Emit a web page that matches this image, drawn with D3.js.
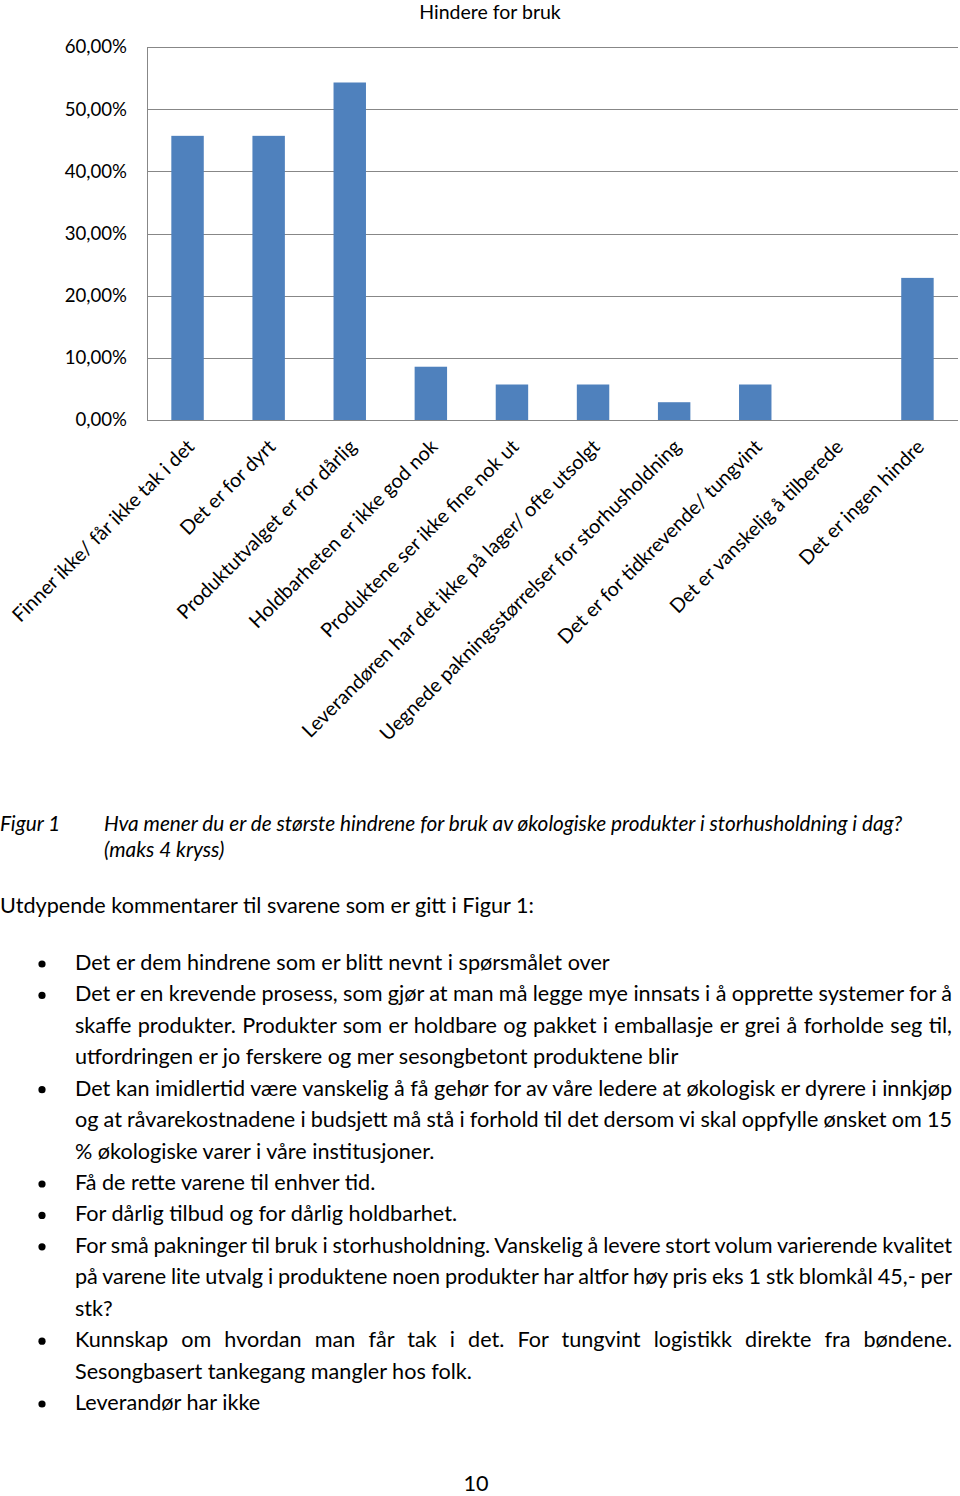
<!DOCTYPE html>
<html>
<head>
<meta charset="utf-8">
<script src="https://cdn.jsdelivr.net/npm/d3@7"></script>
<style>
  body { margin: 0; background: #fff; }
  svg { display: block; }
  text { font-family: Lato, "Open Sans", sans-serif; fill: #000; }
</style>
</head>
<body>
<svg width="960" height="1496"></svg>
<script>
const categories = [
  "Finner ikke/ får ikke tak i det",
  "Det er for dyrt",
  "Produktutvalget er for dårlig",
  "Holdbarheten er ikke god nok",
  "Produktene ser ikke fine nok ut",
  "Leverandøren har det ikke på lager/ ofte utsolgt",
  "Uegnede pakningsstørrelser for storhusholdning",
  "Det er for tidkrevende/ tungvint",
  "Det er vanskelig å tilberede",
  "Det er ingen hindre"
];
const values = [0.4571, 0.4571, 0.5429, 0.0857, 0.0571, 0.0571, 0.0286, 0.0571, 0, 0.2286];
const yTicks = [0, 0.1, 0.2, 0.3, 0.4, 0.5, 0.6];
const chartTitle = "Hindere for bruk";

const captionLabel = "Figur 1";
const captionLines = [
  "Hva mener du er de største hindrene for bruk av økologiske produkter i storhusholdning i dag?",
  "(maks 4 kryss)"
];
const introText = "Utdypende kommentarer til svarene som er gitt i Figur 1:";
const commentLines = [
  {text: "Det er dem hindrene som er blitt nevnt i spørsmålet over", bullet: true},
  {text: "Det er en krevende prosess, som gjør at man må legge mye innsats i å opprette systemer for å", bullet: true, justify: true},
  {text: "skaffe produkter. Produkter som er holdbare og pakket i emballasje er grei å forholde seg til,", justify: true},
  {text: "utfordringen er jo ferskere og mer sesongbetont produktene blir"},
  {text: "Det kan imidlertid være vanskelig å få gehør for av våre ledere at økologisk er dyrere i innkjøp", bullet: true, justify: true},
  {text: "og at råvarekostnadene i budsjett må stå i forhold til det dersom vi skal oppfylle ønsket om 15", justify: true},
  {text: "% økologiske varer i våre institusjoner."},
  {text: "Få de rette varene til enhver tid.", bullet: true},
  {text: "For dårlig tilbud og for dårlig holdbarhet.", bullet: true},
  {text: "For små pakninger til bruk i storhusholdning. Vanskelig å levere stort volum varierende kvalitet", bullet: true, justify: true},
  {text: "på varene lite utvalg i produktene noen produkter har altfor høy pris eks 1 stk blomkål 45,- per", justify: true},
  {text: "stk?"},
  {text: "Kunnskap om hvordan man får tak i det. For tungvint logistikk direkte fra bøndene.", bullet: true, justify: true},
  {text: "Sesongbasert tankegang mangler hos folk."},
  {text: "Leverandør har ikke", bullet: true}
];
const pageNumber = "10";

const svg = d3.select("svg");
svg.append("rect").attr("width", 960).attr("height", 1496).attr("fill", "#fff");

// ---- chart ----
const plotLeft = 147, plotRight = 958, plotTop = 47, plotBottom = 420;

const x = d3.scaleBand()
    .domain(categories)
    .range([plotLeft, plotRight])
    .paddingInner(0.6)
    .paddingOuter(0.3);

const y = d3.scaleLinear()
    .domain([0, 0.6])
    .range([plotBottom, plotTop]);

const no = d3.formatLocale({decimal: ",", thousands: " ", grouping: [3], currency: ["", " kr"]});
const pct = no.format(".2%");

const yAxis = svg.append("g")
    .attr("transform", `translate(${plotLeft},0)`)
    .call(d3.axisLeft(y)
      .tickValues(yTicks)
      .tickFormat(pct)
      .tickSize(-(plotRight - plotLeft))
      .tickSizeOuter(0)
      .tickPadding(20));

yAxis.selectAll("line, path")
    .attr("stroke", "#878787")
    .attr("shape-rendering", "crispEdges");
yAxis.selectAll("text")
    .attr("font-family", "Lato, sans-serif")
    .attr("font-size", 18.6)
    .attr("fill", "#000");

svg.append("g")
  .selectAll("rect")
  .data(values)
  .join("rect")
    .attr("x", (d, i) => x(categories[i]))
    .attr("y", d => y(d))
    .attr("width", x.bandwidth())
    .attr("height", d => y(0) - y(d))
    .attr("fill", "#4f81bd");

svg.append("text")
    .attr("x", 490)
    .attr("y", 19)
    .attr("text-anchor", "middle")
    .attr("font-size", 19.5)
    .text(chartTitle);

svg.append("g")
  .selectAll("text")
  .data(categories)
  .join("text")
    .attr("transform", d => `translate(${x(d) + x.bandwidth() / 2 + 8},448) rotate(-45)`)
    .attr("text-anchor", "end")
    .attr("font-size", 19.8)
    .text(d => d);

// ---- text below ----
function measure(str, size, italic) {
  const t = svg.append("text")
      .attr("font-size", size)
      .attr("font-style", italic ? "italic" : null)
      .text(str);
  const w = t.node().getComputedTextLength();
  t.remove();
  return w;
}

const capSize = 20 * 799 / measure(captionLines[0], 20, true);
svg.append("text")
    .attr("x", 0).attr("y", 831)
    .attr("font-size", capSize).attr("font-style", "italic")
    .text(captionLabel);
svg.selectAll(".cap")
  .data(captionLines)
  .join("text")
    .attr("class", "cap")
    .attr("x", 104)
    .attr("y", (d, i) => 831 + i * 26)
    .attr("font-size", capSize)
    .attr("font-style", "italic")
    .text(d => d);

const bodySize = 20 * 535 / measure(commentLines[0].text, 20, false);

svg.append("text")
    .attr("x", 0).attr("y", 913)
    .attr("font-size", bodySize)
    .text(introText);

const lineY = i => 970 + i * 31.43;

svg.append("g")
  .selectAll("circle")
  .data(commentLines.map((d, i) => ({...d, i})).filter(d => d.bullet))
  .join("circle")
    .attr("cx", 42)
    .attr("cy", d => lineY(d.i) - 6)
    .attr("r", 3.6)
    .attr("fill", "#000");

svg.append("g")
  .selectAll("text")
  .data(commentLines)
  .join("text")
    .attr("x", 75)
    .attr("y", (d, i) => lineY(i))
    .attr("font-size", bodySize)
    .attr("word-spacing", d => {
      if (!d.justify) return null;
      const spaces = d.text.split(" ").length - 1;
      return (877 - measure(d.text, bodySize, false)) / spaces;
    })
    .text(d => d.text);

svg.append("text")
    .attr("x", 476).attr("y", 1491)
    .attr("text-anchor", "middle")
    .attr("font-size", bodySize)
    .text(pageNumber);
</script>
</body>
</html>
